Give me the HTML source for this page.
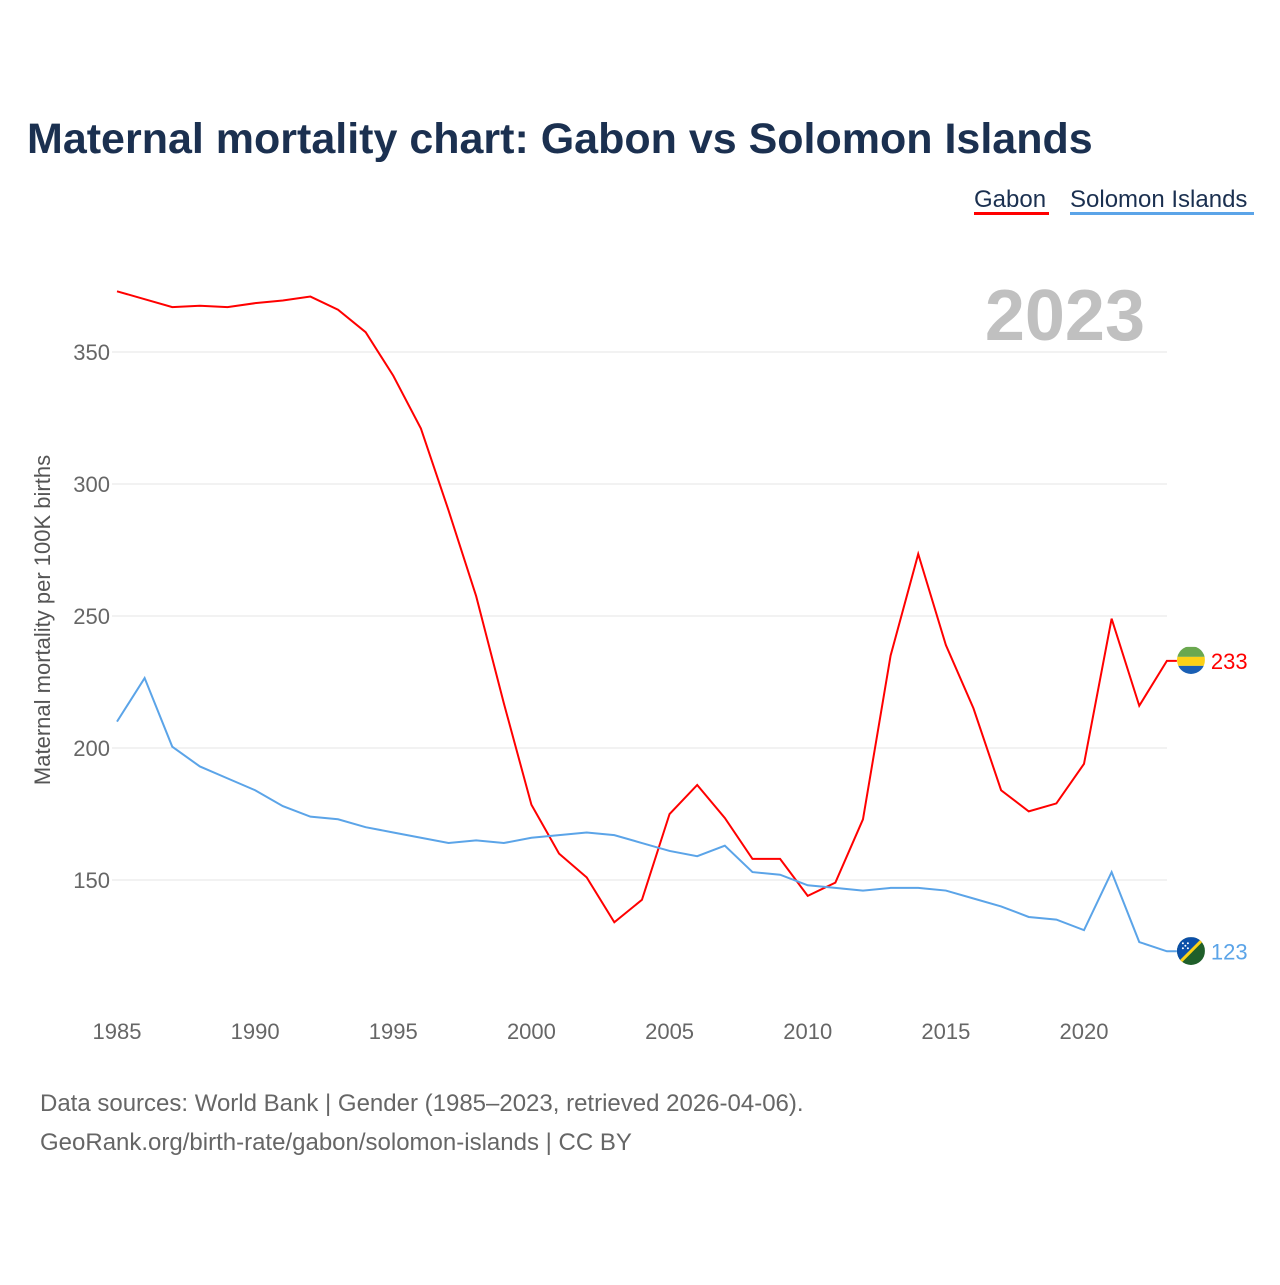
<!DOCTYPE html>
<html><head><meta charset="utf-8"><style>
body{margin:0;background:#fff;font-family:"Liberation Sans",sans-serif}
svg text{font-family:"Liberation Sans",sans-serif}
</style></head><body>
<svg id="c" width="1280" height="1280">
<defs>
<clipPath id="cg"><circle cx="1191" cy="660" r="14"/></clipPath>
<clipPath id="cs"><circle cx="1191" cy="951" r="14"/></clipPath>
</defs>
<text x="27" y="153" font-size="43" font-weight="bold" fill="#1b3050">Maternal mortality chart: Gabon vs Solomon Islands</text>
<g><text x="974" y="207" font-size="24" fill="#1b3050">Gabon</text><rect x="974" y="212" width="75" height="3" fill="#ff0000"/></g>
<g><text x="1070" y="207" font-size="24" fill="#1b3050">Solomon Islands</text><rect x="1070" y="212" width="184" height="3" fill="#5ba4e8"/></g>
<text x="1145" y="340" font-size="72" font-weight="bold" fill="#c0c0c0" text-anchor="end">2023</text>
<text transform="translate(50,620) rotate(-90)" font-size="22" fill="#555" text-anchor="middle">Maternal mortality per 100K births</text>
<g id="grid"></g><g id="marks"></g>
<text x="40" y="1111" font-size="24" fill="#666">Data sources: World Bank | Gender (1985–2023, retrieved 2026-04-06).</text>
<text x="40" y="1150" font-size="24" fill="#666">GeoRank.org/birth-rate/gabon/solomon-islands | CC BY</text>
</svg>
<script>
const years=[];for(let y=1985;y<=2023;y++)years.push(y);
const gabon=[373,370,367,367.5,367,368.5,369.5,371,366,357.5,341,321,290,257.5,217,178.5,160,151,134,142.5,175,186,173.5,158,158,144,149,173,235,273.5,239,215,184,176,179,194,249,216,233];
const solomon=[210,226.5,200.5,193,188.5,184,178,174,173,170,168,166,164,165,164,166,167,168,167,164,161,159,163,153,152,148,147,146,147,147,146,143,140,136,135,131,153,126.5,123];
const yTicks=[150,200,250,300,350];
const xTicks=[1985,1990,1995,2000,2005,2010,2015,2020];
const X=y=>117+(y-1985)*(1084-117)/35;
const Y=v=>352+(350-v)*2.64;
const NS="http://www.w3.org/2000/svg";
const grid=document.getElementById('grid'),marks=document.getElementById('marks');
function mk(t,a,p){const e=document.createElementNS(NS,t);for(const k in a)e.setAttribute(k,a[k]);p.appendChild(e);return e;}
yTicks.forEach(v=>{
const l=mk('line',{x1:112,x2:1167,y1:Y(v),y2:Y(v),stroke:'#e6e6e6'},grid);


const t=mk('text',{x:110,y:Y(v)+8,'font-size':22,fill:'#666','text-anchor':'end'},grid);t.textContent=v;


});
xTicks.forEach(v=>{
const t=mk('text',{x:X(v),y:1039,'font-size':22,fill:'#666','text-anchor':'middle'},grid);t.textContent=v;


});
function flag(name,cx,cy){
const g=mk('g',{},marks);


if(name==='gabon'){
 g.setAttribute('clip-path','url(#cg)');
 mk('rect',{x:cx-14,y:cy-14,width:28,height:10,fill:'#6aa84f'},g);
 mk('rect',{x:cx-14,y:cy-4,width:28,height:9,fill:'#fcd116'},g);
 mk('rect',{x:cx-14,y:cy+5,width:28,height:10,fill:'#1a5fb4'},g);
}else{
 g.setAttribute('clip-path','url(#cs)');
 mk('rect',{x:cx-14,y:cy-14,width:28,height:28,fill:'#1f5f2a'},g);
 mk('polygon',{points:`${cx-14},${cy-14} ${cx+14},${cy-14} ${cx-14},${cy+14}`,fill:'#0b4fa8'},g);
 mk('line',{x1:cx+14,y1:cy-14,x2:cx-14,y2:cy+14,stroke:'#fcd116','stroke-width':3},g);
 [[-8,-8],[-3,-8],[-8,-3],[-3,-3],[-5.5,-5.5]].forEach(d=>mk('circle',{cx:cx+d[0],cy:cy+d[1],r:1,fill:'#fff'},g));
}
}
function series(vals,col,name){
const lx=X(years[years.length-1]),last=vals[vals.length-1];
const p=mk('path',{d:vals.map((v,i)=>(i?'L':'M')+X(years[i])+','+Y(v)).join('')+'L'+(lx+10)+','+Y(last),fill:'none',stroke:col,'stroke-width':2},marks);


flag(name,lx+24,Y(last));
const t=mk('text',{x:lx+44,y:Y(last)+8,'font-size':22,fill:col},marks);t.textContent=Math.round(last);


}
series(gabon,'#ff0000','gabon');
series(solomon,'#5ba4e8','solomon');
</script>
</body></html>
